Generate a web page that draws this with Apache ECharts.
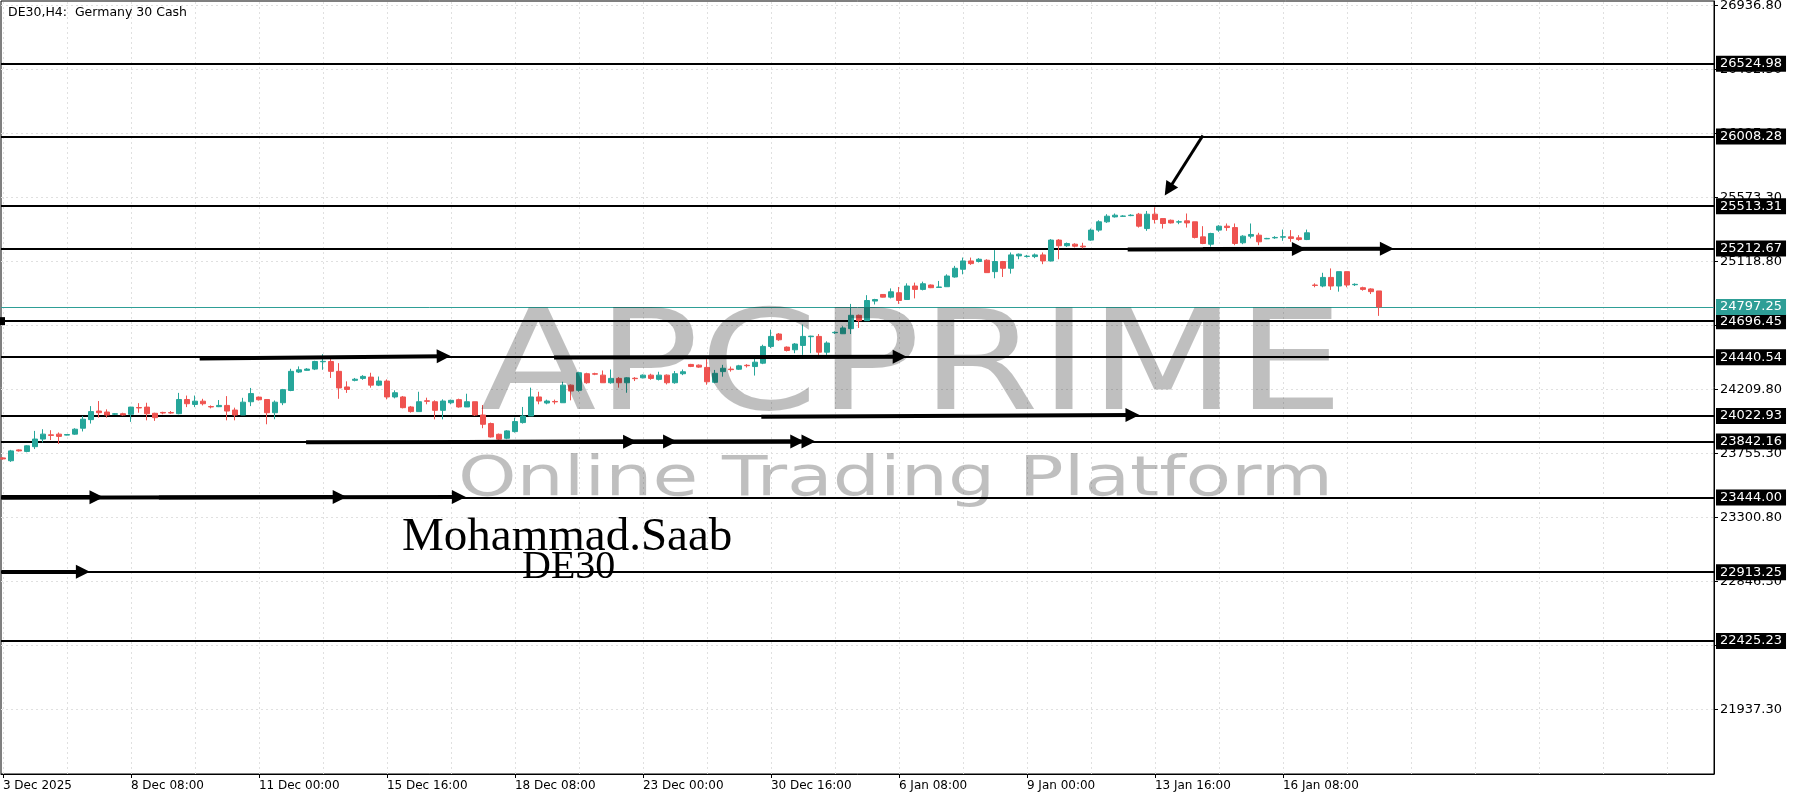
<!DOCTYPE html>
<html><head><meta charset="utf-8">
<script src="https://cdn.jsdelivr.net/npm/echarts@6/dist/echarts.min.js"></script>
<style>html,body{margin:0;padding:0;background:#fff}#c{width:1800px;height:800px}</style>
</head><body><div id="c"></div>
<script>
// H4 bars, index 0 = first bar at left edge
const opens = [23725,23705,23782,23771,23805,23859,23889,23894,23887,23894,23936,23997,24058,24051,24035,24039,24035,24083,24086,24042,
24048,24047,24039,24140,24105,24128,24090,24089,24098,24065,24030,24124,24157,24140,24046,24117,24204,24335,24347,24356,
24408,24410,24340,24229,24276,24290,24299,24242,24271,24158,24158,24087,24054,24131,24124,24063,24117,24139,24087,24124,
24030,23969,23893,23865,23912,23976,24023,24158,24115,24126,24117,24242,24205,24323,24323,24313,24259,24290,24259,24291,
24294,24313,24283,24313,24259,24323,24389,24384,24368,24262,24338,24356,24355,24383,24374,24398,24517,24605,24512,24493,
24524,24586,24588,24476,24614,24607,24643,24738,24700,24839,24886,24867,24898,24850,24946,24922,24953,24936,24941,25010,
25065,25124,25120,25129,25048,25120,25072,25160,25156,25155,25167,25124,25272,25232,25243,25229,25272,25343,25402,25437,
25441,25446,25456,25354,25456,25425,25413,25400,25409,25402,25295,25243,25343,25371,25361,25253,25300,25307,25281,25288,
25293,25295,25288,25276,24953,24946,25007,24946,25048,24955,24934,24925,24911];
const closes = [23718,23775,23775,23811,23859,23894,23885,23878,23891,23929,24000,24054,24046,24030,24039,24030,24086,24080,24039,24011,
24044,24044,24140,24110,24128,24110,24087,24098,24058,24030,24121,24182,24138,24046,24121,24210,24340,24351,24356,24410,
24411,24340,24222,24211,24284,24304,24242,24271,24158,24188,24082,24054,24124,24127,24063,24129,24134,24087,24124,24030,
23964,23874,23858,23917,23983,24023,24158,24129,24129,24123,24242,24200,24330,24259,24320,24259,24290,24259,24294,24288,
24313,24290,24313,24259,24323,24337,24375,24370,24266,24326,24362,24352,24379,24380,24405,24517,24588,24564,24488,24534,
24588,24590,24476,24541,24617,24648,24738,24700,24843,24850,24867,24905,24843,24946,24922,24962,24934,24939,25017,25072,
25124,25105,25136,25041,25120,25072,25167,25172,25158,25167,25124,25272,25232,25248,25229,25224,25343,25402,25442,25449,
25443,25449,25371,25456,25418,25390,25394,25402,25394,25291,25248,25319,25371,25361,25248,25300,25312,25260,25284,25291,
25296,25284,25276,25324,24950,25007,24946,25048,24953,24958,24922,24906,24797.25];
const lows = [23712,23697,23770,23765,23788,23835,23852,23824,23885,23889,23913,23969,24011,24011,24030,24025,23981,24046,23992,23988,
24035,24039,24035,24086,24086,24098,24077,24086,23992,23992,24030,24093,24133,23964,24000,24100,24199,24328,24344,24349,
24351,24293,24145,24187,24269,24280,24224,24235,24141,24148,24077,24047,24054,24106,23999,23999,24106,24082,24087,24023,
23936,23870,23846,23858,23905,23969,24023,24106,24106,24106,24117,24134,24195,24252,24313,24259,24252,24224,24188,24271,
24290,24280,24275,24247,24252,24313,24370,24365,24245,24255,24302,24338,24350,24367,24310,24391,24505,24557,24481,24469,
24457,24469,24453,24457,24605,24605,24605,24648,24700,24815,24865,24858,24819,24850,24858,24915,24931,24936,24941,25005,
25029,25096,25113,25041,25001,25010,25034,25136,25148,25144,25101,25120,25136,25224,25220,25213,25267,25331,25394,25432,
25437,25442,25361,25338,25390,25354,25390,25385,25361,25284,25243,25225,25331,25338,25236,25243,25284,25236,25279,25281,
25267,25260,25267,25272,24937,24937,24918,24906,24937,24946,24913,24889,24734];
const highs = [23730,23782,23786,23815,23917,23929,23922,23906,23894,23936,24023,24093,24129,24070,24044,24046,24088,24114,24117,24046,
24053,24058,24187,24168,24168,24145,24098,24136,24164,24082,24152,24222,24161,24140,24133,24215,24358,24375,24363,24415,
24462,24434,24398,24269,24293,24313,24330,24303,24283,24205,24165,24094,24195,24153,24134,24141,24139,24146,24181,24124,
24101,23976,23898,23922,24011,24087,24224,24195,24139,24139,24266,24247,24337,24330,24330,24346,24353,24299,24299,24299,
24318,24323,24337,24318,24342,24353,24393,24389,24426,24350,24386,24374,24386,24391,24445,24529,24636,24612,24517,24541,
24672,24593,24605,24553,24624,24660,24819,24743,24881,24855,24888,24929,24939,24965,24970,24977,24957,24982,25029,25089,
25148,25148,25144,25136,25201,25124,25184,25177,25167,25177,25184,25279,25279,25255,25250,25253,25354,25413,25456,25461,
25449,25456,25465,25479,25505,25425,25418,25413,25461,25402,25371,25324,25378,25390,25390,25307,25390,25324,25288,25300,
25347,25343,25307,25347,24965,25040,25071,25048,25048,24965,24941,24930,24911];

const timeLabels = ['3 Dec 2025','8 Dec 08:00','11 Dec 00:00','15 Dec 16:00','18 Dec 08:00','23 Dec 00:00','30 Dec 16:00','6 Jan 08:00','9 Jan 00:00','13 Jan 16:00','16 Jan 08:00'];
const timeLabelIdx = [0,16,32,48,64,80,96,112,128,144,160];
const vGridIdx = [0,8,16,24,32,40,48,56,64,72,80,88,96,104,112,120,128,136,144,152,160,168,176,184,192,200,208];
const priceTicks = [21937.30,22391.80,22846.30,23300.80,23755.30,24209.80,24664.30,25118.80,25573.30,26027.80,26482.30,26936.80];
const levels = [26524.98,26008.28,25513.31,25212.67,24696.45,24440.54,24022.93,23842.16,23444.00,22913.25,22425.23];
const selectedLevel = 24696.45;
const bidPrice = 24797.25;
// arrowed trend lines: [startIndex, startPrice, endIndex, endPrice, width]
const arrows = [
  [24.6,24432,55.1,24448,4],
  [68.9,24438,112.1,24444,4],
  [94.8,24018,141.2,24030,4],
  [37.9,23836,78.4,23840,4],
  [57,23838,83.4,23841,4],
  [57,23838,99.3,23842,4],
  [70,23838,100.7,23842,4],
  [-0.2,23446,11.7,23446,4],
  [-0.2,23442,42.1,23447,4],
  [19.5,23444,57.0,23447,4],
  [-0.2,22916,10.0,22916,4],
  [140.6,25205,162.0,25209,4],
  [150,25208,173.0,25211,4],
  [150,26015,145.7,25630,3]
];

const FONT = 'DejaVu Sans';
const candleData = opens.map((o,i)=>[i,o,closes[i],lows[i],highs[i]]);

const chart = echarts.init(document.getElementById('c'), null, {renderer:'canvas'});
chart.setOption({
  animation:false,
  backgroundColor:'#ffffff',
  grid:{left:1,right:86,top:1,bottom:26,show:true,borderColor:'#000',borderWidth:1,backgroundColor:'transparent',outerBoundsMode:'none'},
  xAxis:{type:'value',min:-0.2375,max:213.89,position:'bottom',
    axisLine:{show:true,onZero:false,lineStyle:{color:'#000',width:1}},
    axisTick:{show:true,customValues:timeLabelIdx,length:4,lineStyle:{color:'#000'}},
    axisLabel:{show:true,customValues:timeLabelIdx,align:'left',margin:6,color:'#000',fontFamily:FONT,fontSize:12,hideOverlap:false,
      formatter:v=>{const k=timeLabelIdx.indexOf(Math.round(v));return k>=0?timeLabels[k]:'';}},
    splitLine:{show:false}},
  yAxis:{type:'value',position:'right',min:21480.2,max:26970.2,scale:true,
    axisLine:{show:true,onZero:false,lineStyle:{color:'#000',width:1}},
    axisTick:{show:true,customValues:priceTicks,length:4,lineStyle:{color:'#000'}},
    axisLabel:{show:true,customValues:priceTicks,margin:6,color:'#000',fontFamily:FONT,fontSize:13,hideOverlap:false,
      formatter:v=>v.toFixed(2)},
    splitLine:{show:false}},
  series:[
    {type:'line',name:'grid',data:[],silent:true,
      markLine:{silent:true,z:0,symbol:'none',animation:false,label:{show:false},
        lineStyle:{color:'#e0e0e0',type:[2,3],width:1},
        data:[...vGridIdx.map(v=>({xAxis:v})),...priceTicks.map(v=>({yAxis:v}))]}},
    {type:'line',name:'levels',data:[],silent:true,
      markLine:{silent:true,z:1,symbol:'none',animation:false,
        lineStyle:{color:'#000',type:'solid',width:2},
        label:{show:true,position:'end',distance:2,formatter:p=>p.value.toFixed(2),backgroundColor:'#000',color:'#fff',
          fontFamily:FONT,fontSize:13,padding:[2,4,1,4]},
        data:levels.map(v=>v===selectedLevel?{yAxis:v,symbol:['rect','rect'],symbolSize:8}:{yAxis:v})}},
    {type:'line',name:'bid',data:[],silent:true,
      markLine:{silent:true,z:1,symbol:'none',animation:false,
        lineStyle:{color:'#2e9e96',type:'solid',width:1},
        label:{show:true,position:'end',distance:2,formatter:p=>p.value.toFixed(2),backgroundColor:'#2e9e96',color:'#fff',
          fontFamily:FONT,fontSize:13,padding:[2,4,1,4]},
        data:[{yAxis:bidPrice}]}},
    {type:'candlestick',name:'DE30',data:candleData,encode:{x:0,y:[1,2,3,4]},barWidth:5,z:2,clip:true,
      itemStyle:{color:'#26a69a',color0:'#ef5350',borderColor:'#26a69a',borderColor0:'#ef5350',borderWidth:1}},
    {type:'line',name:'arrows',data:[],silent:true,
      markLine:{silent:true,z:5,animation:false,symbol:['none','triangle'],symbolSize:14,label:{show:false},
        lineStyle:{color:'#000',type:'solid',width:4},
        data:arrows.map(a=>[{coord:[a[0],a[1]],lineStyle:{width:a[4]}},{coord:[a[2],a[3]]}])}}
  ],
  graphic:[
    {type:'text',left:8,top:6,z:20,style:{text:'DE30,H4:  Germany 30 Cash',font:'12.5px "DejaVu Sans"',fill:'#000'}},
    {type:'text',x:480,y:373,scaleX:1.225,z:10,silent:true,style:{text:'APCPRIME',font:'139px "DejaVu Sans"',fill:'rgba(0,0,0,0.25)',verticalAlign:'middle'}},
    {type:'text',x:458,y:480,scaleX:1.33,z:10,silent:true,style:{text:'Online Trading Platform',font:'56px "DejaVu Sans"',fill:'rgba(0,0,0,0.25)',verticalAlign:'middle'}},
    {type:'text',x:402,y:538,z:12,silent:true,style:{text:'Mohammad.Saab',font:'47px "Liberation Serif"',fill:'#000',verticalAlign:'middle'}},
    {type:'text',x:522,y:567,z:12,silent:true,style:{text:'DE30',font:'40px "Liberation Serif"',fill:'#000',verticalAlign:'middle'}}
  ]
});
</script>
</body></html>
